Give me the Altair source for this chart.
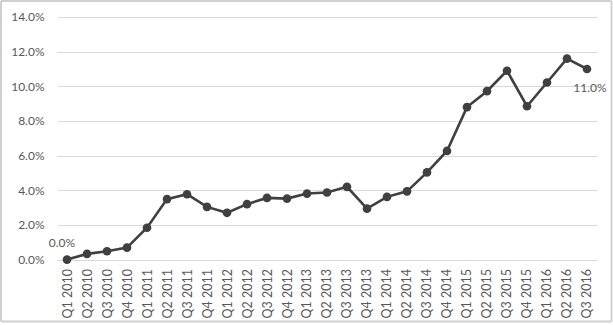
import altair as alt
import pandas as pd

quarters = [
    "Q1 2010", "Q2 2010", "Q3 2010", "Q4 2010",
    "Q1 2011", "Q2 2011", "Q3 2011", "Q4 2011",
    "Q1 2012", "Q2 2012", "Q3 2012", "Q4 2012",
    "Q1 2013", "Q2 2013", "Q3 2013", "Q4 2013",
    "Q1 2014", "Q2 2014", "Q3 2014", "Q4 2014",
    "Q1 2015", "Q2 2015", "Q3 2015", "Q4 2015",
    "Q1 2016", "Q2 2016", "Q3 2016",
]
values_pct = [
    0.0, 0.33, 0.48, 0.69,
    1.84, 3.49, 3.77, 3.04,
    2.70, 3.20, 3.56, 3.52,
    3.81, 3.87, 4.20, 2.94,
    3.62, 3.94, 5.03, 6.27,
    8.80, 9.72, 10.90, 8.85,
    10.22, 11.60, 11.00,
]
y_ticks = [0.0, 0.02, 0.04, 0.06, 0.08, 0.10, 0.12, 0.14]

df = pd.DataFrame({"quarter": quarters, "value": [v / 100 for v in values_pct]})
df["order"] = range(len(df))

FONT = "Lato"
LABEL_COLOR = "#595959"
LINE_COLOR = "#404040"

x_enc = alt.X(
    "quarter:N",
    sort=quarters,
    title=None,
    axis=alt.Axis(
        labelAngle=-90,
        labelAlign="right",
        labelBaseline="middle",
        labelPadding=9,
        labelOverlap=False,
        ticks=False,
        domain=False,
        grid=False,
        labelFont=FONT,
        labelFontSize=12.5,
        labelColor=LABEL_COLOR,
    ),
)
y_enc = alt.Y(
    "value:Q",
    title=None,
    scale=alt.Scale(domain=[0, 0.14], nice=False),
    axis=alt.Axis(
        values=y_ticks,
        tickCount=8,
        format=".1%",
        ticks=False,
        domain=False,
        labelOverlap=False,
        gridColor="#d9d9d9",
        gridWidth=1,
        labelPadding=13,
        labelFont=FONT,
        labelFontSize=12,
        labelColor=LABEL_COLOR,
    ),
)

base = alt.Chart(df).encode(x=x_enc, y=y_enc)

line = base.mark_line(color=LINE_COLOR, strokeWidth=2.6).encode(order="order:Q")
points = base.mark_circle(color=LINE_COLOR, opacity=1, size=75)

first_label = base.transform_filter(alt.datum.order == 0).mark_text(
    font=FONT, fontSize=12, color=LABEL_COLOR, dx=-5, dy=-17
).encode(text=alt.Text("value:Q", format=".1%"))
last_label = base.transform_filter(alt.datum.order == len(quarters) - 1).mark_text(
    font=FONT, fontSize=12, color=LABEL_COLOR, dx=3, dy=19
).encode(text=alt.Text("value:Q", format=".1%"))

edge = alt.Chart(df).transform_filter(alt.datum.order == 0)
bstyle = dict(color="#d0d0d0", strokeWidth=2, clip=False)
L, R, T, B = -56, 554.5, -16, 304.5
top = edge.mark_rule(**bstyle).encode(x=alt.value(L), x2=alt.value(R), y=alt.value(T))
bottom = edge.mark_rule(**bstyle).encode(x=alt.value(L), x2=alt.value(R), y=alt.value(B))
left = edge.mark_rule(**bstyle).encode(x=alt.value(L), y=alt.value(T), y2=alt.value(B))
right = edge.mark_rule(**bstyle).encode(x=alt.value(R), y=alt.value(T), y2=alt.value(B))

chart = (
    alt.layer(line, points, first_label, last_label, top, bottom, left, right)
    .properties(
        width=540,
        height=242.6,
        autosize=alt.AutoSizeParams(type="none"),
        padding={"left": 57, "top": 17, "right": 16, "bottom": 65},
        background="white",
    )
    .configure_view(stroke=None)
)

chart.save("out.html", embed_options={"renderer": "svg", "actions": False})
